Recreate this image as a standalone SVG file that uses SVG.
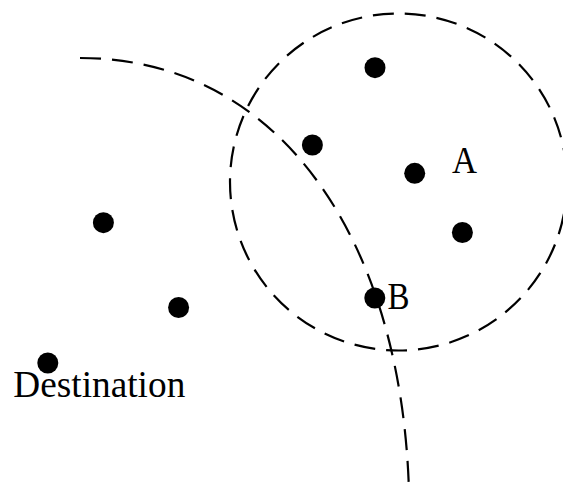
<svg xmlns="http://www.w3.org/2000/svg" width="563" height="492" viewBox="0 0 563 492">
<style>
.d{fill:none;stroke:#000;stroke-width:2.2;stroke-dasharray:21 11}
.n{fill:#000}
.t{font-family:"Liberation Serif","Times New Roman",serif;font-size:37px;fill:#000}
</style>
<rect width="563" height="492" fill="#fff"/>
<g id="connectors">
<circle class="d" cx="398.5" cy="182" r="168.5"/>
<path class="d" d="M80,58 C280,58 402,240 409,492"/>
</g>
<g id="n1"><circle class="n" cx="375" cy="67.7" r="10.5"/></g>
<g id="n2"><circle class="n" cx="312.4" cy="145" r="10.5"/></g>
<g id="A"><circle class="n" cx="414.7" cy="173.3" r="10.5"/><text class="t" x="452" y="173" textLength="25" lengthAdjust="spacingAndGlyphs">A</text></g>
<g id="n4"><circle class="n" cx="462.4" cy="232.5" r="10.5"/></g>
<g id="n5"><circle class="n" cx="103.4" cy="222.7" r="10.5"/></g>
<g id="n6"><circle class="n" cx="178.6" cy="307.5" r="10.5"/></g>
<g id="B"><circle class="n" cx="374.8" cy="298" r="10.5"/><text class="t" x="387.5" y="309" textLength="22" lengthAdjust="spacingAndGlyphs">B</text></g>
<g id="Destination"><circle class="n" cx="47.8" cy="363" r="10.5"/><text class="t" x="13.3" y="397" textLength="172" lengthAdjust="spacingAndGlyphs">Destination</text></g>
</svg>
